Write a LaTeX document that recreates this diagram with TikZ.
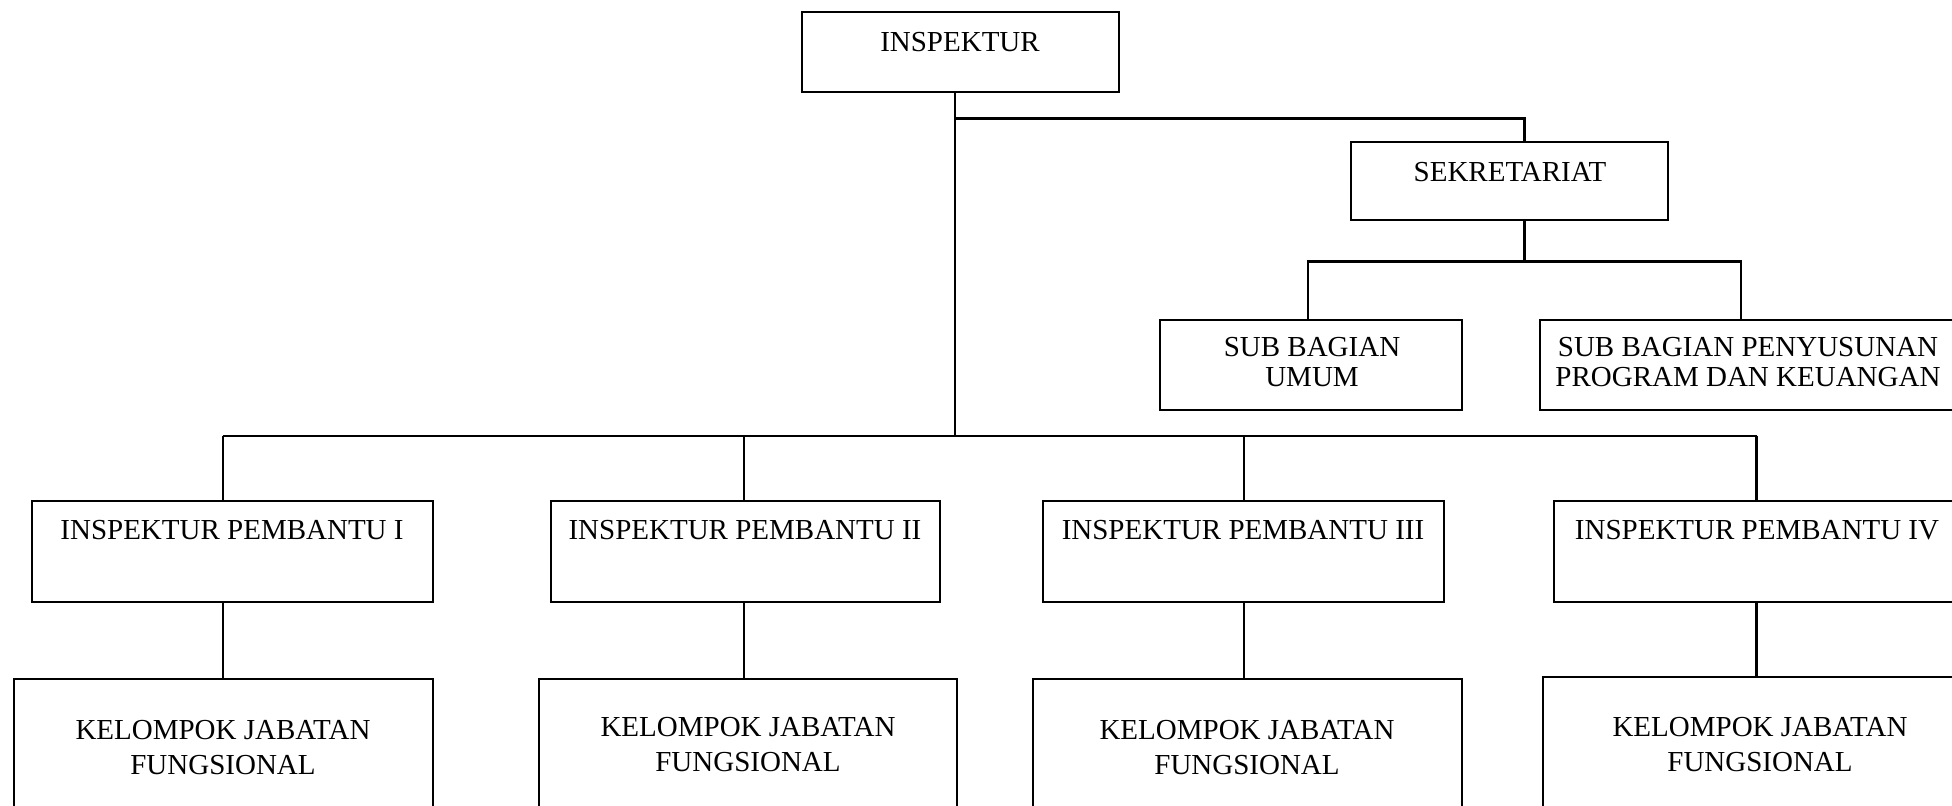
\documentclass[tikz,border=0pt]{standalone}
\usepackage{fontspec}
\setmainfont{Liberation Serif}
\usetikzlibrary{fit}
\begin{document}
\begin{tikzpicture}[x=0.5pt,y=-0.5pt,
  box/.style={draw, line width=1.1pt, rectangle, inner sep=0pt},
  txt/.style={font=\fontsize{14.5}{15}\selectfont, align=center, inner sep=0pt},
  conn/.style={line width=1.1pt}]
\useasboundingbox (0,0) rectangle (1952,806);
\clip (0,0) rectangle (1952,806);
% boxes
\node[box, fit={(802,12) (1119,92)}] (insp) {};
\node[box, fit={(1351,142) (1668,220)}] (sek) {};
\node[box, fit={(1160,320) (1462,410)}] (umum) {};
\node[box, fit={(1540,320) (1960,410)}] (pen) {};
\node[box, fit={(32,501) (433,602)}] (ip1) {};
\node[box, fit={(551,501) (940,602)}] (ip2) {};
\node[box, fit={(1043,501) (1444,602)}] (ip3) {};
\node[box, fit={(1554,501) (1960,602)}] (ip4) {};
\node[box, fit={(14,679) (433,840)}] (kj1) {};
\node[box, fit={(539,679) (957,840)}] (kj2) {};
\node[box, fit={(1033,679) (1462,840)}] (kj3) {};
\node[box, fit={(1543,677) (1977,840)}] (kj4) {};
% texts
\node[txt] (tinsp) at (960,42) {INSPEKTUR};
\node[txt] (tsek) at (1510,172) {SEKRETARIAT};
\node[txt] (tumum) at (1312,362) {SUB BAGIAN\\UMUM};
\node[txt] (tpen) at (1748,362) {SUB BAGIAN PENYUSUNAN\\PROGRAM DAN KEUANGAN};
\node[txt] (tip1) at (232,530) {INSPEKTUR PEMBANTU I};
\node[txt] (tip2) at (745,530) {INSPEKTUR PEMBANTU II};
\node[txt] (tip3) at (1243,530) {INSPEKTUR PEMBANTU III};
\node[txt] (tip4) at (1757,530) {INSPEKTUR PEMBANTU IV};
\node[txt] (tkj1) at (223,748) {KELOMPOK JABATAN\\[2.5pt]FUNGSIONAL};
\node[txt] (tkj2) at (748,745) {KELOMPOK JABATAN\\[2.5pt]FUNGSIONAL};
\node[txt] (tkj3) at (1247,748) {KELOMPOK JABATAN\\[2.5pt]FUNGSIONAL};
\node[txt] (tkj4) at (1760,745) {KELOMPOK JABATAN\\[2.5pt]FUNGSIONAL};
% junctions
\coordinate (jt) at (955,118.5);
\coordinate (js) at (1524.5,118.5);
\coordinate (jsb) at (1524.5,261.5);
\coordinate (ju) at (1308,261.5);
\coordinate (jp) at (1741,261.5);
\coordinate (jm) at (955,436);
\coordinate (b1) at (222.7,436);
\coordinate (b2) at (744,436);
\coordinate (b3) at (1243.6,436);
\coordinate (b4) at (1756.5,436);
% connectors
\draw[conn] (insp.south -| jm) -- (jm);
\draw[conn] (jt) -- (js) -- (js |- sek.north);
\draw[conn] (jsb |- sek.south) -- (jsb);
\draw[conn] (ju |- umum.north) -- (ju) -- (jp) -- (jp |- pen.north);
\draw[conn] (b1) -- (b4);
\draw[conn] (b1) -- (b1 |- ip1.north);
\draw[conn] (b2) -- (b2 |- ip2.north);
\draw[conn] (b3) -- (b3 |- ip3.north);
\draw[conn] (b4) -- (b4 |- ip4.north);
\draw[conn] (b1 |- ip1.south) -- (b1 |- kj1.north);
\draw[conn] (b2 |- ip2.south) -- (b2 |- kj2.north);
\draw[conn] (b3 |- ip3.south) -- (b3 |- kj3.north);
\draw[conn] (b4 |- ip4.south) -- (b4 |- kj4.north);
\end{tikzpicture}
\end{document}
